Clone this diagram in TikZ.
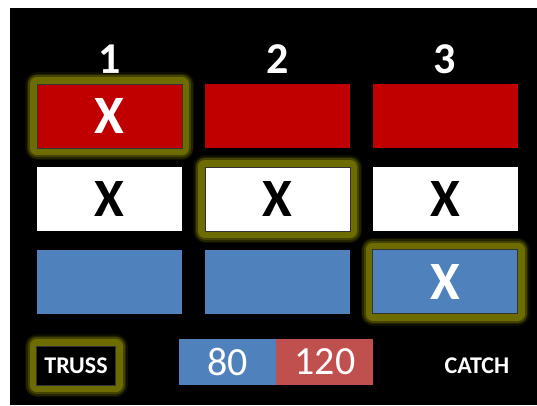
\documentclass[tikz,border=0pt]{standalone}
\usepackage{fontspec}
\setmainfont{Carlito}
\usetikzlibrary{positioning}
\definecolor{boxred}{HTML}{C00000}
\definecolor{boxblue}{HTML}{4F81BD}
\definecolor{scorered}{HTML}{C0504D}
\definecolor{glowc}{RGB}{108,108,0}
\begin{document}
\begin{tikzpicture}[x=1pt,y=-1pt,
	cell/.style={minimum width=145pt,minimum height=64pt,inner sep=0pt,font=\fontsize{54}{54}\selectfont\bfseries},
	head/.style={text=white,font=\fontsize{44}{44}\selectfont\bfseries},
	glow/.style={preaction={draw=glowc,line width=24pt,opacity=.12,line join=round},
		preaction={draw=glowc,line width=21pt,opacity=.25,line join=round},
		preaction={draw=glowc,line width=18pt,opacity=.45,line join=round},
		preaction={draw=glowc,line width=14pt,line join=round},
		draw=black!80,line width=1pt},
	score/.style={minimum width=97pt,minimum height=46pt,inner sep=0pt,text=white,font=\fontsize{40}{40}\selectfont}]
	\useasboundingbox (0,0) rectangle (537,405);
	\fill[black] (10,8) rectangle (537,405);
	% column heads
	\node[head] (h1) at (109.5,59) {1};
	\node[head] (h2) at (277.5,59) {2};
	\node[head] (h3) at (445,59) {3};
	% red row
	\node[cell,fill=boxred,text=white,glow] (r1) at (109.5,116) {X};
	\node[cell,fill=boxred] (r2) at (277.5,116) {};
	\node[cell,fill=boxred] (r3) at (445,116) {};
	% white row
	\node[cell,fill=white] (w1) at (109.5,199) {X};
	\node[cell,fill=white,glow] (w2) at (277.5,199) {X};
	\node[cell,fill=white] (w3) at (445,199) {X};
	% blue row
	\node[cell,fill=boxblue] (b1) at (109.5,281.5) {};
	\node[cell,fill=boxblue] (b2) at (277.5,281.5) {};
	\node[cell,fill=boxblue,text=white,glow] (b3) at (445,281.5) {X};
	% bottom line
	\node[fill=black,glow,minimum width=79pt,minimum height=39pt,inner sep=0pt,text=white,font=\fontsize{24}{24}\selectfont\bfseries] (truss) at (76,365.5) {TRUSS};
	\node[score,fill=boxblue] (s80) at (227.5,361.5) {80};
	\node[score,fill=scorered,right=0pt of s80] (s120) {120};
	\node[text=white,font=\fontsize{24}{24}\selectfont\bfseries] (catch) at (477,366) {CATCH};
\end{tikzpicture}
\end{document}
